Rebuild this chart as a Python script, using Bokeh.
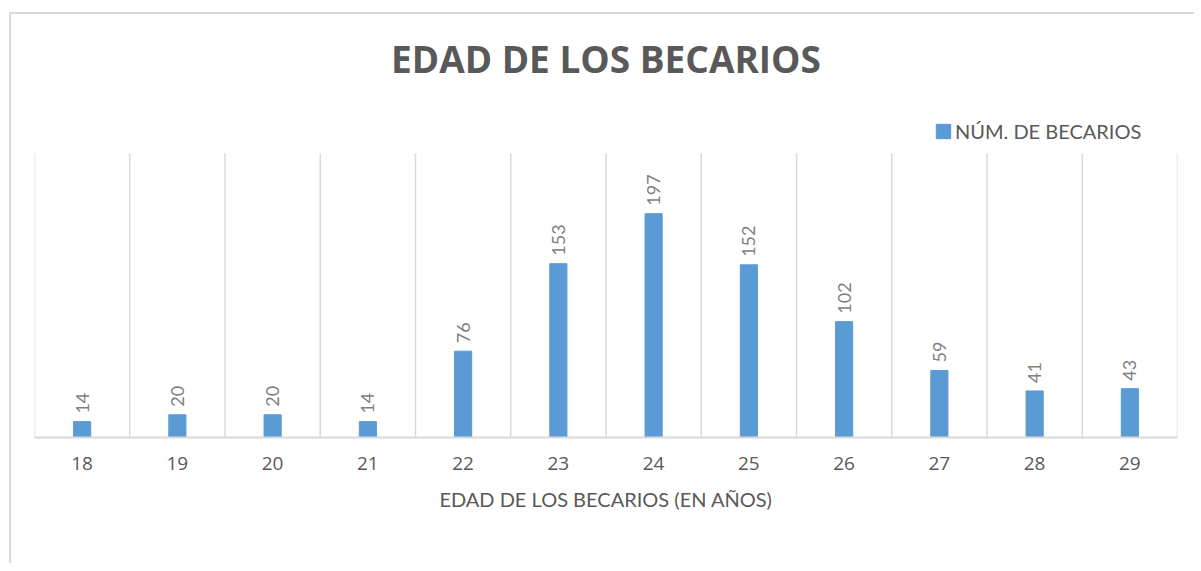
from bokeh.plotting import figure
from bokeh.models import ColumnDataSource, FixedTicker, Range1d, Legend, LegendItem
from bokeh.embed import file_html
from bokeh.resources import INLINE
from bokeh.core.properties import value
import math

ages = ["18", "19", "20", "21", "22", "23", "24", "25", "26", "27", "28", "29"]
counts = [14, 20, 20, 14, 76, 153, 197, 152, 102, 59, 41, 43]
series_name = "NÚM. DE BECARIOS"
title_text = "EDAD DE LOS BECARIOS"
x_title = "EDAD DE LOS BECARIOS (EN AÑOS)"
y_max = 250

idx = list(range(len(ages)))
src = ColumnDataSource(dict(x=idx, y=counts, lab=[str(c) for c in counts]))
bounds = [i - 0.5 for i in range(len(ages) + 1)]
gsrc = ColumnDataSource(dict(x=bounds, y0=[0] * len(bounds), y1=[y_max] * len(bounds)))

GREY = "#595959"
LABEL_GREY = "#7F7F7F"
BLUE = "#5B9BD5"
GRID = "#d9d9d9"

FRAME_H = 337  # frame taller than the gridded area to host the legend
p = figure(width=1185, height=551, output_backend="svg", toolbar_location=None,
           x_range=Range1d(-0.5, len(ages) - 0.5), y_range=Range1d(0, y_max * FRAME_H / 284),
           min_border_left=23, min_border_right=19, min_border_top=86, min_border_bottom=128)
p.styles = {"border-left": "2px solid #d9d9d9", "border-top": "2px solid #d9d9d9",
            "margin-top": "12px", "margin-left": "9px"}
p.outline_line_color = None
p.background_fill_color = "white"
p.border_fill_color = "white"
p.grid.grid_line_color = None

p.segment(x0="x", x1="x", y0="y0", y1="y1", source=gsrc, line_color=GRID, line_width=1.5)

r = p.vbar(x="x", top="y", width=0.18, source=src, fill_color=BLUE, line_color=BLUE)
p.text(x="x", y="y", text="lab", source=src, angle=math.pi / 2, text_align="left",
       text_baseline="middle", y_offset=-8, text_color=LABEL_GREY, text_font=value("Lato"),
       text_font_size="18px")

p.yaxis.visible = False

p.xaxis.ticker = FixedTicker(ticks=idx)
p.xaxis.major_label_overrides = {i: a for i, a in zip(idx, ages)}
p.xaxis.major_tick_line_color = None
p.xaxis.minor_tick_line_color = None
p.xaxis.axis_line_color = GRID
p.xaxis.axis_line_width = 2
p.xaxis.major_label_text_color = GREY
p.xaxis.major_label_text_font = "Open Sans"
p.xaxis.major_label_text_font_size = "19px"
p.xaxis.major_label_standoff = 13
p.xaxis.axis_label = x_title
p.xaxis.axis_label_text_color = GREY
p.xaxis.axis_label_text_font = "Lato"
p.xaxis.axis_label_text_font_size = "20px"
p.xaxis.axis_label_text_font_style = "normal"
p.xaxis.axis_label_standoff = 14

legend = Legend(items=[LegendItem(label=series_name, renderers=[r])], location=(900, 294),
                orientation="horizontal", background_fill_alpha=0, border_line_color=None,
                label_text_font="Lato", label_text_font_size="20px", label_text_color=GREY,
                glyph_width=18, glyph_height=18, padding=0, margin=0, label_standoff=3)
p.add_layout(legend, "center")

p.title.text = title_text
p.title.align = "center"
p.title.text_font = "Open Sans"
p.title.text_font_size = "37px"
p.title.text_font_style = "bold"
p.title.text_color = GREY
p.title.offset = 0
p.title.standoff = 33

open("out.html", "w").write(file_html(p, INLINE))
